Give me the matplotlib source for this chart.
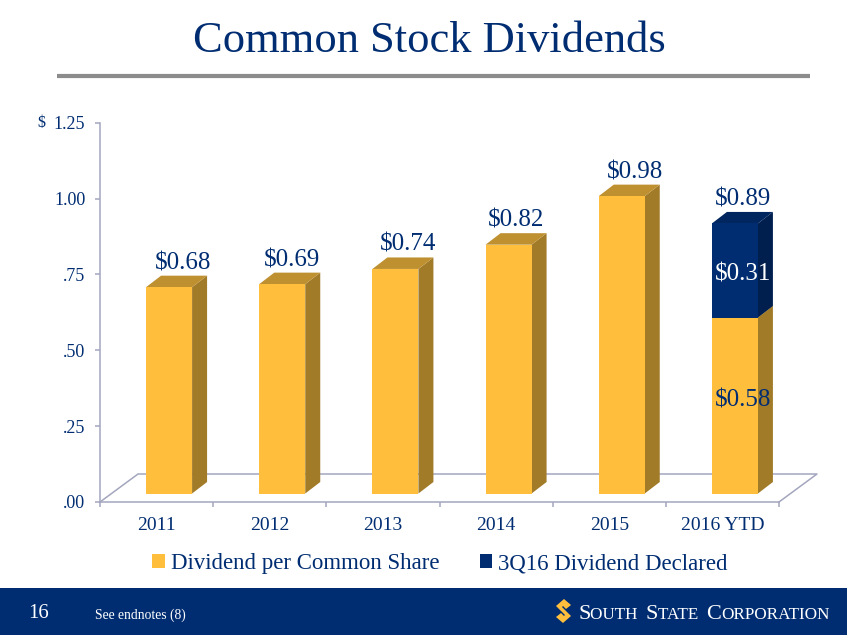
import matplotlib
matplotlib.use("Agg")
import matplotlib.pyplot as plt
from matplotlib.patches import Polygon, Rectangle

categories = ["2011", "2012", "2013", "2014", "2015", "2016 YTD"]
dividend = [0.68, 0.69, 0.74, 0.82, 0.98, 0.58]
declared = [0, 0, 0, 0, 0, 0.31]
total_labels = ["$0.68", "$0.69", "$0.74", "$0.82", "$0.98", "$0.89"]
label_nudge_px = [14, 10, 13, 7, 13, 8]
y_ticks = [0, 0.25, 0.5, 0.75, 1.0, 1.25]
y_tick_labels = [".00", ".25", ".50", ".75", "1.00", "1.25"]

NAVY = "#002D72"
GOLD, GOLD_TOP, GOLD_SIDE = "#FFBE3C", "#BF9030", "#A27B28"
BLUE_TOP, BLUE_SIDE = "#00265F", "#001F4F"
AXIS = "#A3A6BE"
plt.rcParams["font.family"] = ["Liberation Serif", "DejaVu Serif"]

W, H = 847, 635
fig = plt.figure(figsize=(W / 100, H / 100), dpi=100, facecolor="white")

# page furniture in pixel coordinates
bg = fig.add_axes([0, 0, 1, 1])
bg.set_xlim(0, W); bg.set_ylim(H, 0); bg.axis("off")
bg.add_patch(Rectangle((0, 588), W, 47, color=NAVY, lw=0))
bg.plot([57, 810], [75.5, 75.5], color="#8C8C8C", lw=3, solid_capstyle="butt")
bg.text(429, 52, "Common Stock Dividends", color=NAVY, fontsize=32, ha="center", va="baseline")
bg.text(41, 123, "$", color=NAVY, fontsize=11.5, ha="center", va="center")
bg.text(28, 613, "16", color="white", fontsize=15, va="center")
bg.text(95, 615, "See endnotes (8)", color="white", fontsize=9.8, va="center")
# logo mark
bg.add_patch(Polygon([(556, 606), (564, 599), (571, 605), (566, 609), (563, 606), (562, 607), (571, 616),
                      (563, 623), (556, 617), (561, 613), (564, 616), (565, 615)],
                     closed=True, color=GOLD, lw=0))
x = 578
r = fig.canvas.get_renderer()
for txt, size in [("S", 16), ("OUTH ", 12.3), ("S", 16), ("TATE ", 12.3), ("C", 16), ("ORPORATION", 12.3)]:
    t = bg.text(x, 619, txt, color="white", fontsize=size, va="baseline", ha="left")
    x += t.get_window_extent(r).width + (3.5 if txt.endswith(" ") else 0)

# chart: data axes placed so value and category scales match the picture
left, right, y0, y125 = 100, 779, 502, 122.7
ax = fig.add_axes([left / W, 1 - y0 / H, (right - left) / W, (y0 - y125) / H])
ax.set_xlim(0, len(categories)); ax.set_ylim(0, 1.25)
ax.patch.set_alpha(0)
px = len(categories) / (right - left)
py = 1.25 / (y0 - y125)

floor_dx, floor_dy = 38 * px, 28 * py
bar_lift = 8.5 * py
bar_shift = 12.5 * px
depth_x, depth_y = 15 * px, 11.5 * py
bar_w = 46 * px

ax.plot([0, floor_dx, len(categories) + floor_dx, len(categories)],
        [0, floor_dy, floor_dy, 0], color=AXIS, lw=1.1, clip_on=False, zorder=1)


def box(xc, bottom, height, front, top, side):
    x0, x1 = xc - bar_w / 2, xc + bar_w / 2
    y0_, y1_ = bottom + bar_lift, bottom + bar_lift + height
    ax.add_patch(Polygon([(x1, y0_), (x1 + depth_x, y0_ + depth_y), (x1 + depth_x, y1_ + depth_y), (x1, y1_)],
                         color=side, lw=0, zorder=3, clip_on=False))
    ax.add_patch(Polygon([(x0, y1_), (x0 + depth_x, y1_ + depth_y), (x1 + depth_x, y1_ + depth_y), (x1, y1_)],
                         color=top, lw=0, zorder=3, clip_on=False))
    return ax.bar(xc, height, bar_w, bottom=y0_, color=front, zorder=4)


positions = [i + 0.5 + bar_shift for i in range(len(categories))]
h1 = h2 = None
for xc, a, b in zip(positions, dividend, declared):
    h = box(xc, 0, a, GOLD, GOLD_TOP, GOLD_SIDE)
    h1 = h1 or h
    if b:
        h2 = box(xc, a, b, NAVY, BLUE_TOP, BLUE_SIDE)

for xc, a, b, lab, n in zip(positions, dividend, declared, total_labels, label_nudge_px):
    ax.text(xc + n * px, a + b + bar_lift + depth_y + 1.5 * py, lab, color=NAVY, fontsize=18,
            ha="center", va="bottom", zorder=6)
ax.text(positions[5] + 8 * px, dividend[5] + declared[5] / 2 + bar_lift - 4 * py, f"${declared[5]:.2f}",
        color="white", fontsize=18, ha="center", va="center", zorder=6)
ax.text(positions[5] + 8 * px, dividend[5] / 2 + bar_lift + 5 * py, f"${dividend[5]:.2f}",
        color=NAVY, fontsize=18, ha="center", va="center", zorder=6)

for s in ("top", "right"):
    ax.spines[s].set_visible(False)
for s in ("left", "bottom"):
    ax.spines[s].set_color(AXIS); ax.spines[s].set_linewidth(1.1)
ax.set_yticks(y_ticks, y_tick_labels, fontsize=13, color=NAVY)
ax.set_xticks(range(len(categories) + 1), [""] * (len(categories) + 1))
ax.set_xticks([i + 0.5 for i in range(len(categories))], categories, minor=True, fontsize=14, color=NAVY)
ax.tick_params(axis="y", length=3.6, width=1.1, color=AXIS, pad=7)
ax.tick_params(axis="x", which="major", length=3.6, width=1.1, color=AXIS)
ax.tick_params(axis="x", which="minor", length=0, pad=11)

ax.legend([h1, h2], ["Dividend per Common Share", "3Q16 Dividend Declared"], ncol=2, frameon=False,
          loc="center", bbox_to_anchor=((440 - left) / (right - left), -(564 - y0) / (y0 - y125)),
          fontsize=16.5, labelcolor=NAVY, handlelength=0.55, handleheight=0.55, handletextpad=0.26,
          columnspacing=1.75, borderpad=0)

fig.savefig("out.png", dpi=100)
